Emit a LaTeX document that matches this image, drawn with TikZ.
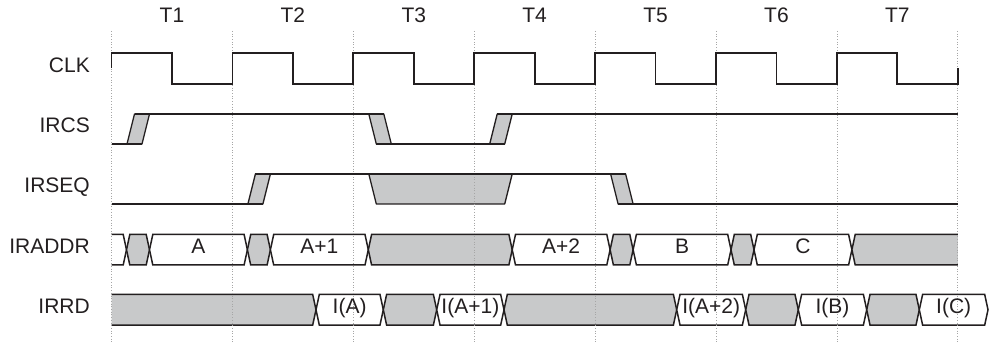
\documentclass[tikz,border=0pt]{standalone}
\usepackage{fontspec}
\setmainfont{Liberation Sans}
\definecolor{ink}{RGB}{35,31,32}
\definecolor{busgray}{RGB}{200,201,202}
% one bus value between two crossings: fill, left x, right x, top y
\newcommand{\busval}[4]{%
  \filldraw[bus,fill=#1] (#2,#4+15.25) -- (#2+3.3,#4) -- (#3-3.3,#4) -- (#3,#4+15.25) -- (#3-3.3,#4+30.5) -- (#2+3.3,#4+30.5) -- cycle;}
\begin{document}
\begin{tikzpicture}[x=1pt,y=-1pt,
    wave/.style={draw=ink,line width=1.8pt},
    bus/.style={draw=ink,line width=1.5pt},
    slope/.style={draw=ink,fill=busgray,line width=1.3pt,line join=round},
    gridline/.style={gray!70,dotted,line width=0.7pt},
    lbl/.style={text=ink,inner sep=0pt,text height=0.716em,text depth=0pt,font=\fontsize{21}{25}\selectfont}]
      \useasboundingbox (0,0) rectangle (992,344);%

      % IRADDR
      \draw[bus] (111.5,234.5) -- (123.2,234.5) -- (126.5,249.75) -- (123.2,265) -- (111.5,265);%
      \busval{busgray}{126.5}{149.5}{234.5}%
      \busval{white}{149.5}{247.4}{234.5}%
      \busval{busgray}{247.4}{270.4}{234.5}%
      \busval{white}{270.4}{368.3}{234.5}%
      \busval{busgray}{368.3}{512.2}{234.5}%
      \busval{white}{512.2}{610.1}{234.5}%
      \busval{busgray}{610.1}{633.1}{234.5}%
      \busval{white}{633.1}{731}{234.5}%
      \busval{busgray}{731}{754}{234.5}%
      \busval{white}{754}{851.9}{234.5}%
      \fill[busgray] (851.9,249.75) -- (855.2,234.5) -- (957.8,234.5) -- (957.8,265) -- (855.2,265) -- cycle;%
      \draw[bus] (957.8,234.5) -- (855.2,234.5) -- (851.9,249.75) -- (855.2,265) -- (957.8,265);%

      % IRRD
      \fill[busgray] (111.5,294.5) -- (312.7,294.5) -- (316,309.75) -- (312.7,325) -- (111.5,325) -- cycle;%
      \draw[bus] (111.5,294.5) -- (312.7,294.5) -- (316,309.75) -- (312.7,325) -- (111.5,325);%
      \busval{white}{316}{383.3}{294.5}%
      \busval{busgray}{383.3}{436.7}{294.5}%
      \busval{white}{436.7}{504}{294.5}%
      \busval{busgray}{504}{676.7}{294.5}%
      \busval{white}{676.7}{745.7}{294.5}%
      \busval{busgray}{745.7}{798.3}{294.5}%
      \busval{white}{798.3}{866.7}{294.5}%
      \busval{busgray}{866.7}{919.3}{294.5}%
      \busval{white}{919.3}{988}{294.5}%

      % IRCS edges
      \filldraw[slope] (127,144) -- (134.5,114) -- (149.5,114) -- (142,144) -- cycle;%
      \filldraw[slope] (368.8,114) -- (383.8,114) -- (391.3,144) -- (376.3,144) -- cycle;%
      \filldraw[slope] (489.7,144) -- (497.2,114) -- (512.2,114) -- (504.7,144) -- cycle;%

      % IRSEQ edges
      \filldraw[slope] (247.9,204) -- (255.4,174) -- (270.4,174) -- (262.9,204) -- cycle;%
      \filldraw[slope] (368.8,174) -- (376.3,204) -- (504.7,204) -- (512.2,174) -- cycle;%
      \filldraw[slope] (610.6,174) -- (625.6,174) -- (633.1,204) -- (618.1,204) -- cycle;%

      % cycle boundaries
      \draw[gridline] (111.5,31) -- (111.5,344);%
      \draw[gridline] (232.4,31) -- (232.4,344);%
      \draw[gridline] (353.3,31) -- (353.3,344);%
      \draw[gridline] (474.2,31) -- (474.2,344);%
      \draw[gridline] (595.1,31) -- (595.1,344);%
      \draw[gridline] (716,31) -- (716,344);%
      \draw[gridline] (836.9,31) -- (836.9,344);%
      \draw[gridline] (957.8,31) -- (957.8,344);%

      % CLK
      \draw[wave] (111.5,68.5) -- (111.5,53) -- (171.95,53) -- (171.95,84) -- (232.4,84) -- (232.4,53)
        -- (292.85,53) -- (292.85,84) -- (353.3,84) -- (353.3,53) -- (413.75,53) -- (413.75,84)
        -- (474.2,84) -- (474.2,53) -- (534.65,53) -- (534.65,84) -- (595.1,84) -- (595.1,53)
        -- (655.55,53) -- (655.55,84) -- (716,84) -- (716,53) -- (776.45,53) -- (776.45,84)
        -- (836.9,84) -- (836.9,53) -- (897.35,53) -- (897.35,84) -- (957.8,84) -- (957.8,68.5);%

      % IRCS levels
      \draw[wave] (111.5,144) -- (142,144);%
      \draw[wave] (134.5,114) -- (383.8,114);%
      \draw[wave] (376.3,144) -- (504.7,144);%
      \draw[wave] (497.2,114) -- (957.8,114);%

      % IRSEQ levels
      \draw[wave] (111.5,204) -- (262.9,204);%
      \draw[wave] (255.4,174) -- (625.6,174);%
      \draw[wave] (618.1,204) -- (957.8,204);%

      \node[lbl] (T1) at (171.95,19) {T1};%
      \node[lbl] (T2) at (292.85,19) {T2};%
      \node[lbl] (T3) at (413.75,19) {T3};%
      \node[lbl] (T4) at (534.65,19) {T4};%
      \node[lbl] (T5) at (655.55,19) {T5};%
      \node[lbl] (T6) at (776.45,19) {T6};%
      \node[lbl] (T7) at (897.35,19) {T7};%

      \node[lbl,anchor=east] (clk) at (90,68.5) {CLK};%
      \node[lbl,anchor=east] (ircs) at (90,129) {IRCS};%
      \node[lbl,anchor=east] (irseq) at (90,189) {IRSEQ};%
      \node[lbl,anchor=east] (iraddr) at (90,249.75) {IRADDR};%
      \node[lbl,anchor=east] (irrd) at (90,309.75) {IRRD};%

      \node[lbl] (addrA) at (198.45,249.75) {A};%
      \node[lbl] (addrA1) at (319.35,249.75) {A+1};%
      \node[lbl] (addrA2) at (561.15,249.75) {A+2};%
      \node[lbl] (addrB) at (682.05,249.75) {B};%
      \node[lbl] (addrC) at (802.95,249.75) {C};%

      \node[lbl] (rdA) at (349.65,309.75) {I(A)};%
      \node[lbl] (rdA1) at (470.35,309.75) {I(A+1)};%
      \node[lbl] (rdA2) at (711.2,309.75) {I(A+2)};%
      \node[lbl] (rdB) at (832.5,309.75) {I(B)};%
      \node[lbl] (rdC) at (953.65,309.75) {I(C)};%
    \end{tikzpicture}
\end{document}
